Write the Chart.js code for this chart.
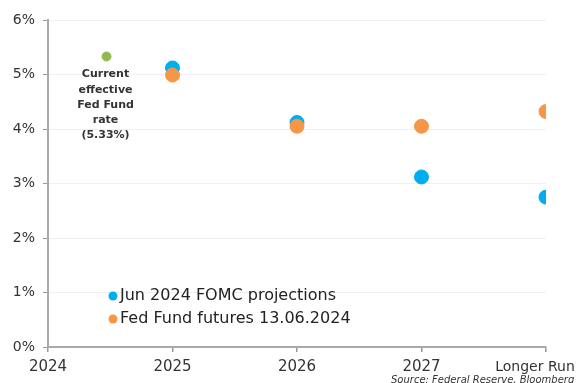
<!DOCTYPE html>
<html>
<head>
<meta charset="utf-8">
<script src="https://cdn.jsdelivr.net/npm/chart.js@4/dist/chart.umd.min.js"></script>
<style>
  html, body { margin: 0; padding: 0; background: #fff; }
  #wrap { position: relative; width: 578px; height: 383px; }
</style>
</head>
<body>
<div id="wrap"><canvas id="rateChart" width="578" height="383"></canvas></div>
<script>
  // Categories along the x axis
  const categories = ['2024', '2025', '2026', '2027', 'Longer Run'];
  // Projection points sit on categories 1..4
  const projectionCats = ['2025', '2026', '2027', 'Longer Run'];
  const fomcValues = [5.12, 4.12, 3.12, 2.75];
  const futuresValues = [4.99, 4.05, 4.05, 4.32];
  // Current effective rate, placed mid-2024
  const currentPos = 0.47;
  const currentRate = 5.33;
  const yTicks = [0, 1, 2, 3, 4, 5, 6];
  const legendLabels = ['Jun 2024 FOMC projections', 'Fed Fund futures 13.06.2024'];
  const noteLines = ['Current', 'effective', 'Fed Fund', 'rate', '(5.33%)'];
  const sourceText = 'Source: Federal Reserve, Bloomberg';

  const BLUE = '#00AEEF';
  const ORANGE = '#F79646';
  const GREEN = '#92B853';
  const FONT = '"DejaVu Sans", Verdana, sans-serif';

  function toPoints(values) {
    return values.map((v, i) => ({ x: categories.indexOf(projectionCats[i]), y: v }));
  }

  // Draws the x labels, the note, the in-plot legend and the source line
  const extrasPlugin = {
    id: 'extras',
    afterDraw(chart) {
      const ctx = chart.ctx;
      const xs = chart.scales.x;
      const ys = chart.scales.y;
      ctx.save();

      // x tick labels
      ctx.fillStyle = '#333';
      ctx.textBaseline = 'middle';
      ctx.textAlign = 'center';
      categories.forEach((c, i) => {
        let px = xs.getPixelForValue(i);
        ctx.font = '15px ' + FONT;
        if (i === categories.length - 1) {
          px -= 11;
          ctx.font = '14px ' + FONT;
        }
        ctx.fillText(c, px, 367);
      });

      // note under the green point
      ctx.font = 'bold 11px ' + FONT;
      ctx.textAlign = 'center';
      const nx = xs.getPixelForValue(currentPos) - 1;
      noteLines.forEach((line, i) => {
        ctx.fillText(line, nx, ys.getPixelForValue(currentRate) + 18 + i * 15.2);
      });

      // legend
      ctx.font = '16px ' + FONT;
      ctx.textAlign = 'left';
      [BLUE, ORANGE].forEach((col, i) => {
        const y = 296 + i * 23;
        ctx.fillStyle = col;
        ctx.beginPath();
        ctx.arc(113, y, 4.5, 0, Math.PI * 2);
        ctx.fill();
        ctx.fillStyle = '#222';
        ctx.fillText(legendLabels[i], 120, y);
      });

      // source
      ctx.font = 'italic 10px ' + FONT;
      ctx.fillStyle = '#333';
      ctx.fillText(sourceText, 391, 380);
      ctx.restore();
    }
  };

  const ctx = document.getElementById('rateChart').getContext('2d');
  new Chart(ctx, {
    type: 'scatter',
    data: {
      datasets: [
        {
          label: legendLabels[1],
          data: toPoints(futuresValues),
          backgroundColor: ORANGE,
          borderColor: ORANGE,
          pointRadius: 7,
          pointHoverRadius: 7
        },
        {
          label: legendLabels[0],
          data: toPoints(fomcValues),
          backgroundColor: BLUE,
          borderColor: BLUE,
          pointRadius: 7,
          pointHoverRadius: 7
        },
        {
          label: 'Current effective Fed Fund rate',
          data: [{ x: currentPos, y: currentRate }],
          backgroundColor: GREEN,
          borderColor: GREEN,
          pointRadius: 4.5,
          pointHoverRadius: 4.5
        }
      ]
    },
    options: {
      responsive: false,
      animation: false,
      layout: { padding: { top: 20, right: 32, left: 0, bottom: 0 } },
      plugins: {
        legend: { display: false },
        tooltip: { enabled: false }
      },
      scales: {
        x: {
          type: 'linear',
          min: 0,
          max: categories.length - 1,
          afterFit(scale) { scale.height = 36; },
          afterBuildTicks(scale) {
            scale.ticks = categories.map((c, i) => ({ value: i }));
          },
          ticks: { display: false },
          grid: {
            drawOnChartArea: false,
            drawTicks: true,
            tickLength: 5,
            tickColor: '#999',
            lineWidth: 1.5
          },
          border: { color: '#aaa', width: 2 }
        },
        y: {
          min: 0,
          max: 6,
          afterFit(scale) { scale.width = 48; },
          afterBuildTicks(scale) {
            scale.ticks = yTicks.map(v => ({ value: v }));
          },
          ticks: {
            color: '#333',
            font: { family: FONT, size: 14 },
            padding: 8,
            callback: v => v + '%'
          },
          grid: {
            color: '#f0f0f0',
            tickColor: '#999',
            tickLength: 5,
            lineWidth: 1
          },
          border: { color: '#aaa', width: 2 }
        }
      }
    },
    plugins: [extrasPlugin]
  });
</script>
</body>
</html>
